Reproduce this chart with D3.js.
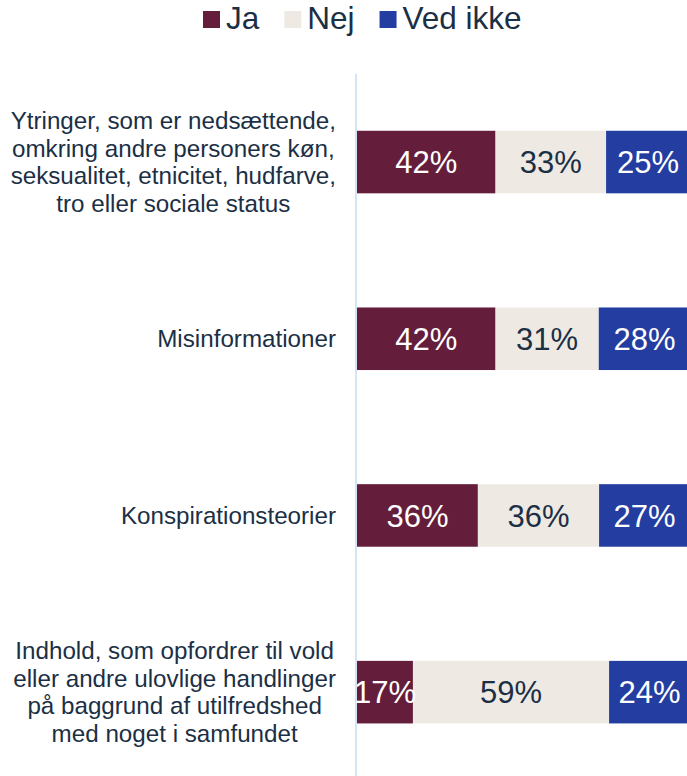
<!DOCTYPE html>
<html>
<head>
<meta charset="utf-8">
<script src="https://cdn.jsdelivr.net/npm/d3@7"></script>
<style>
  html, body { margin: 0; padding: 0; background: #ffffff; }
  svg { display: block; }
  text { font-family: "Liberation Sans", Arial, sans-serif; }
</style>
</head>
<body>
<div id="chart"></div>
<script>
// ---- data ----
const categories = [
  ["Ytringer, som er nedsættende,", "omkring andre personers køn,", "seksualitet, etnicitet, hudfarve,", "tro eller sociale status"],
  ["Misinformationer"],
  ["Konspirationsteorier"],
  ["Indhold, som opfordrer til vold", "eller andre ulovlige handlinger", "på baggrund af utilfredshed", "med noget i samfundet"]
];
const seriesNames = ["Ja", "Nej", "Ved ikke"];
const jaValues      = [41.6, 41.6, 36.3, 16.8];
const nejValues     = [33.2, 31.0, 36.4, 58.9];
const vedIkkeValues = [25.2, 27.5, 27.3, 24.3];
const seriesColors = ["#641e3b", "#eeeae3", "#243da0"];
const labelColors  = ["#ffffff", "#1b2f45", "#ffffff"];

const W = 687, H = 776;
const textColor = "#1b2f45";

const svg = d3.select("#chart").append("svg")
  .attr("width", W).attr("height", H);

const keys = categories.map((c, i) => "c" + i);
const rows = keys.map((k, i) => ({ key: k, lines: categories[i], Ja: jaValues[i], Nej: nejValues[i], "Ved ikke": vedIkkeValues[i] }));

const x = d3.scaleLinear().domain([0, 100]).range([357, 690]);
const y = d3.scaleBand().domain(keys).range([73.7, 780.5]).paddingInner(0.646).paddingOuter(0.323);

const stack = d3.stack().keys(seriesNames)(rows);

// axis line
svg.append("line")
  .attr("x1", 356).attr("x2", 356)
  .attr("y1", y.range()[0]).attr("y2", H)
  .attr("stroke", "#d3e4f4").attr("stroke-width", 2);

// bars
const layers = svg.selectAll("g.layer").data(stack).join("g")
  .attr("class", "layer")
  .attr("fill", (d, i) => seriesColors[i]);

layers.selectAll("rect").data(d => d).join("rect")
  .attr("x", d => x(d[0]))
  .attr("width", d => x(d[1]) - x(d[0]))
  .attr("y", d => y(d.data.key))
  .attr("height", y.bandwidth());

// value labels
stack.forEach((layer, li) => {
  svg.append("g").selectAll("text").data(layer).join("text")
    .attr("x", d => (x(d[0]) + x(d[1])) / 2)
    .attr("y", d => y(d.data.key) + y.bandwidth() / 2)
    .attr("dy", "0.36em")
    .attr("text-anchor", "middle")
    .attr("font-size", 31)
    .attr("fill", labelColors[li])
    .text(d => Math.round(d[1] - d[0]) + "%");
});

// category labels (centered block, right edge at 336)
const lineH = 27.7;
const rightEdge = 336;
rows.forEach(r => {
  const cy = y(r.key) + y.bandwidth() / 2;
  const n = r.lines.length;
  const t = svg.append("text")
    .attr("text-anchor", "middle")
    .attr("font-size", 24.2)
    .attr("fill", textColor);
  const spans = r.lines.map((ln, i) => t.append("tspan")
      .attr("y", cy + (i - (n - 1) / 2) * lineH)
      .attr("dy", "0.35em")
      .text(ln));
  const maxW = d3.max(spans, s => s.node().getComputedTextLength());
  spans.forEach(s => s.attr("x", rightEdge - maxW / 2));
});

// legend
let lx = 203;
const legend = svg.append("g");
seriesNames.forEach((name, i) => {
  legend.append("rect")
    .attr("x", lx).attr("y", 11)
    .attr("width", 17).attr("height", 17)
    .attr("fill", seriesColors[i]);
  const t = legend.append("text")
    .attr("x", lx + 23).attr("y", 29)
    .attr("font-size", 31.5)
    .attr("fill", textColor)
    .text(name);
  lx += 23 + t.node().getComputedTextLength() + 25;
});
</script>
</body>
</html>
